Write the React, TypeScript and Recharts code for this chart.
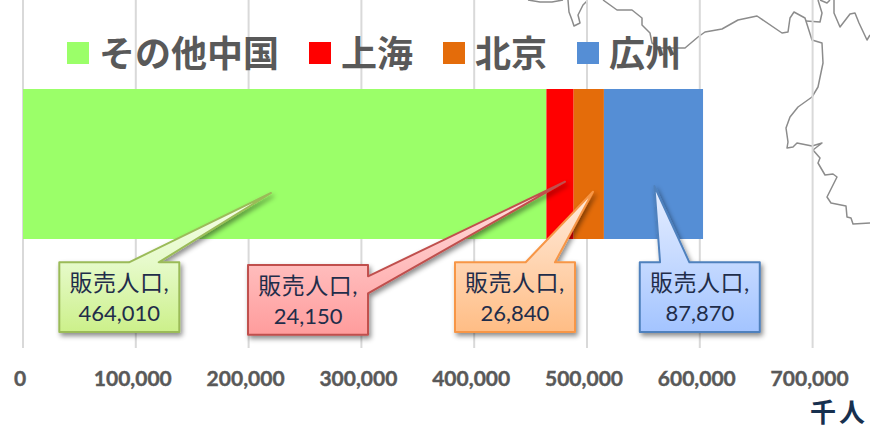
import { BarChart, Bar, XAxis, YAxis, CartesianGrid, Legend, LabelList } from "recharts";

const categories = ["販売人口"];
const cityNames = ["その他中国", "上海", "北京", "広州"];
const cityValues = [464010, 24150, 26840, 87870];
const cityColors = ["#9BFF69", "#FF0000", "#E46C0A", "#558ED5"];
const axisTicks = [0, 100000, 200000, 300000, 400000, 500000, 600000, 700000];

const tableRow: Record<string, string | number> = { name: categories[0] };
cityNames.forEach((city, i) => {
  tableRow[city] = cityValues[i];
});
const tableData = [tableRow];

// Callout styling, one per segment. Offsets are from the segment's centre x and top y.
const callouts = [
  { left: -225.4, top: 173.3, tipX: -13.7, tipY: 104, tail: [-155.7, -126], side: "top", border: "#9BBB59", stops: ["#F6FFEA", "#E6FACA", "#CCF08A"] },
  { left: -312, top: 176, tipX: 5, tipY: 92.7, tail: [187.3, 204.3], side: "right", border: "#C0504D", stops: ["#FFE2E2", "#FFC0C0", "#FF9C9C"] },
  { left: -133.8, top: 173.3, tipX: 4.2, tipY: 102.7, tail: [-63.1, -33.8], side: "top", border: "#F79646", stops: ["#FFEBDC", "#FFD5B2", "#FFBD85"] },
  { left: -13.7, top: 173.3, tipX: 0.9, tipY: 97, tail: [6.6, 35.9], side: "top", border: "#4F81BD", stops: ["#E6EEFF", "#C6DAFF", "#A3C4FF"] },
];
const BOX_W = 120;
const BOX_H = 69.7;

// Coastline and border outline that sits behind the plot
const coastLines = [
  "M528,0 L540,2 L552,2 L563,0",
  "M568,0 L569,12 L572,20 L574,26 L580,23 L578,15 L583,5 L587,1",
  "M603,0 L617,10 L632,10 L642,18 L642,25 L650,33 L652,43 L660,48 L677,48 L685,48 L698,37 L705,32 L722,29 L738,20 L757,16 L782,33 L788,32 L790,18 L794,12 L805,18 L812,40 L822,43 L823,63 L818,87 L812,97 L798,107 L790,117 L786,128 L788,142 L787,148 L793,147 L797,143 L812,146 L822,143 L813,150 L820,158 L818,163 L825,175 L833,174 L837,177 L827,197 L831,203 L846,206 L847,217 L851,218 L853,224 L870,223",
  "M806,21 L820,22 L822,13 L818,0",
  "M820,0 L827,3 L830,0",
  "M834,0 L834,13 L840,27 L850,14 L855,13 L859,23 L867,40 L870,35",
];

function makeCallout(index: number) {
  return function CalloutLabel(props: any) {
    const { x, y, width, value } = props;
    const c = callouts[index];
    const cx = x + width / 2;
    const left = cx + c.left;
    const right = left + BOX_W;
    const top = y + c.top;
    const bottom = top + BOX_H;
    const tipX = cx + c.tipX;
    const tipY = y + c.tipY;
    const d =
      c.side === "top"
        ? `M${left},${top} L${cx + c.tail[0]},${top} L${tipX},${tipY} L${cx + c.tail[1]},${top} L${right},${top} L${right},${bottom} L${left},${bottom} Z`
        : `M${left},${top} L${right},${top} L${right},${y + c.tail[0]} L${tipX},${tipY} L${right},${y + c.tail[1]} L${right},${bottom} L${left},${bottom} Z`;
    return (
      <g>
        <defs>
          <linearGradient id={`callout-fill-${index}`} x1="0" y1="0" x2="0" y2="1">
            <stop offset="0" stopColor={c.stops[0]} />
            <stop offset="0.5" stopColor={c.stops[1]} />
            <stop offset="1" stopColor={c.stops[2]} />
          </linearGradient>
          <filter id={`callout-shadow-${index}`} x="-20%" y="-20%" width="140%" height="140%">
            <feDropShadow dx="2" dy="3" stdDeviation="2.5" floodColor="#000" floodOpacity="0.45" />
          </filter>
        </defs>
        <path d={d} fill={`url(#callout-fill-${index})`} stroke={c.border} strokeWidth={2} strokeLinejoin="round" filter={`url(#callout-shadow-${index})`} />
        <text x={left + BOX_W / 2} y={top + 28.5} textAnchor="middle" fontFamily="Lato, 'Noto Sans CJK JP'" fontSize={23} letterSpacing={0.5} fill="#1F2D4A">
          {categories[0]},
        </text>
        <text x={left + BOX_W / 2} y={top + 59} textAnchor="middle" fontFamily="Lato, 'Noto Sans CJK JP'" fontSize={22} fill="#1F2D4A">
          {Number(value).toLocaleString("en-US")}
        </text>
      </g>
    );
  };
}

function CityLegend({ payload }: any) {
  return (
    <div style={{ display: "flex", alignItems: "center", fontFamily: "'Noto Sans CJK JP'", fontWeight: 700, fontSize: 36, lineHeight: "40px", color: "#595959", whiteSpace: "nowrap" }}>
      {(payload ?? []).map((item: any) => (
        <div key={item.value} style={{ display: "flex", alignItems: "center", marginRight: 30 }}>
          <span style={{ width: 22, height: 22, background: item.color, marginRight: 10, marginTop: 3, display: "inline-block" }} />
          <span>{item.value}</span>
        </div>
      ))}
    </div>
  );
}

export default function App() {
  return (
    <div style={{ position: "absolute", left: 0, top: 0, width: 870, height: 428, overflow: "hidden", background: "#fff" }}>
      <svg width={870} height={428} style={{ position: "absolute", left: 0, top: 0 }}>
        {coastLines.map((d) => (
          <path key={d} d={d} fill="none" stroke="#8C8C8C" strokeWidth={1.5} strokeLinejoin="round" />
        ))}
      </svg>
      <div style={{ position: "absolute", left: 0, top: 0 }}>
        <BarChart
          width={870}
          height={428}
          layout="vertical"
          data={tableData}
          barCategoryGap={0}
          margin={{ top: 0, right: 57.4, bottom: 50, left: 23 }}
        >
          <CartesianGrid horizontal={false} stroke="#D9D9D9" strokeWidth={2} />
          <XAxis
            type="number"
            domain={[0, 700000]}
            ticks={axisTicks}
            interval={0}
            axisLine={false}
            tickLine={false}
            tickMargin={17}
            dx={-3}
            tickFormatter={(v: number) => v.toLocaleString("en-US")}
            tick={{ fill: "#595959", stroke: "#595959", strokeWidth: 0.4, fontSize: 21, fontWeight: 700, fontFamily: "Lato" }}
          />
          <YAxis type="category" dataKey="name" hide padding={{ top: 89, bottom: 109.5 }} />
          <Legend
            verticalAlign="middle"
            itemSorter={null}
            content={<CityLegend />}
            wrapperStyle={{ left: 67, top: 31, width: "auto" }}
          />
          {cityNames.map((city, i) => (
            <Bar key={city} dataKey={city} stackId="sales" fill={cityColors[i]} isAnimationActive={false}>
              <LabelList dataKey={city} content={makeCallout(i)} />
            </Bar>
          ))}
        </BarChart>
      </div>
      <div style={{ position: "absolute", left: 810, top: 399, fontFamily: "'Liberation Sans', 'Noto Sans CJK JP'", fontWeight: 700, fontSize: 26, lineHeight: "28px", letterSpacing: 3, color: "#17304F", whiteSpace: "nowrap" }}>
        千人
      </div>
    </div>
  );
}
